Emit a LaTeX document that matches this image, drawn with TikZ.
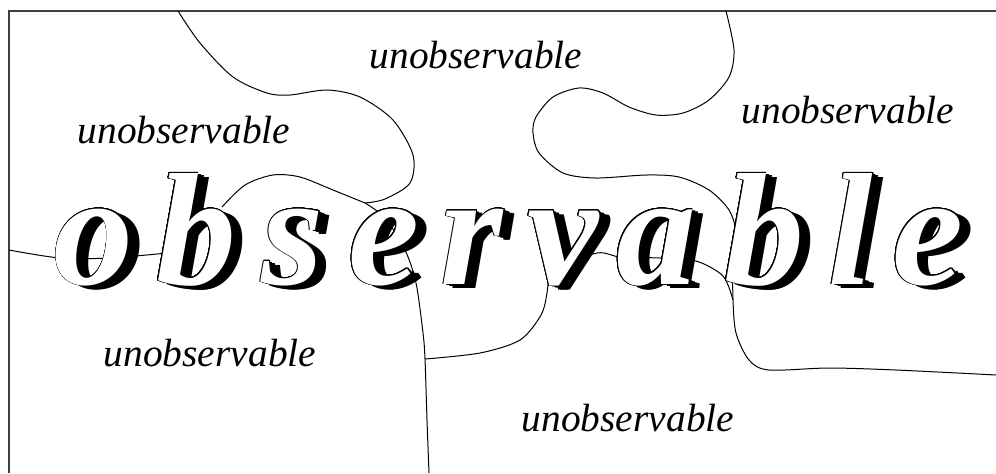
\documentclass[tikz,border=0pt]{standalone}
\usepackage{fontspec}
\setmainfont{Liberation Serif}
\newfontface\heavyface{Liberation Serif Bold Italic}
\usepackage[copies]{contour}
\contourlength{0.45pt}
\contournumber{24}
\tikzset{
  cut/.style={line width=.5pt},
  tag/.style={font=\fontsize{19.7}{24}\selectfont\itshape, inner sep=0pt},
  big/.style={font=\fontsize{80}{90}\heavyface, anchor=base, inner sep=0pt},
}
\begin{document}
\begin{tikzpicture}[x=.5pt,y=-.5pt]
  \useasboundingbox (0,0) rectangle (996,473);
  \draw[line width=.9pt, black!75] (9,473)--(9,11)--(996,11);
 \draw[cut]
	plot[smooth] coordinates {(178,11) (200,43) (233,77) (267,93) (290,95) (327,90) (360,97) (393,120) (413,155) (410,183) (385,199) (365,203)};
 \draw[cut]
	plot[smooth] coordinates {(365,203) (333,190) (300,177) (273,175) (245,185) (222,207)};
 \draw[cut]
	plot[smooth] coordinates {(365,203) (385,218) (405,250) (416,283) (423,333) (425,359) (427,420) (429,473)};
 \draw[cut]
	plot[smooth] coordinates {(425,359) (480,353) (520,340) (541,315) (547,293) (549,270)};
 \draw[cut]
	plot[smooth] coordinates {(9,250) (60,258) (110,258) (167,253)};
 \draw[cut]
	plot[smooth] coordinates {(549,268) (597,253) (620,257) (660,258) (696,261) (723,276) (733,300)};
 \draw[cut]
	plot[smooth] coordinates {(726,11) (734,50) (729,77) (709,100) (683,113) (656,115) (629,107) (603,93) (579,88) (553,97) (536,117) (533,133) (539,153) (563,173) (596,178) (646,175) (679,177) (709,190) (729,210) (736,233) (733,265) (733,300) (736,333) (749,360) (769,370) (829,368) (896,370) (996,375)};
  \foreach \ch/\cx [count=\i] in {o/94,b/196,s/293,e/384,r/472,v/563,a/656,b/764,l/851,e/928}{
    \foreach \d in {3,6,9,11}
      \node[big] (shade\i-\d) at (\cx+\d,284+\d*.45) {\ch};
    \node[big] (letter\i) at (\cx,284) {\textcolor{white}{\contour{black}{\ch}}};
  }
  \node[tag] (top) at (476,55) {unobservable};
  \node[tag] (topleft) at (184,130) {unobservable};
  \node[tag] (right) at (848,110) {unobservable};
  \node[tag] (botleft) at (210,353) {unobservable};
  \node[tag] (bottom) at (628,418) {unobservable};
\end{tikzpicture}
\end{document}
